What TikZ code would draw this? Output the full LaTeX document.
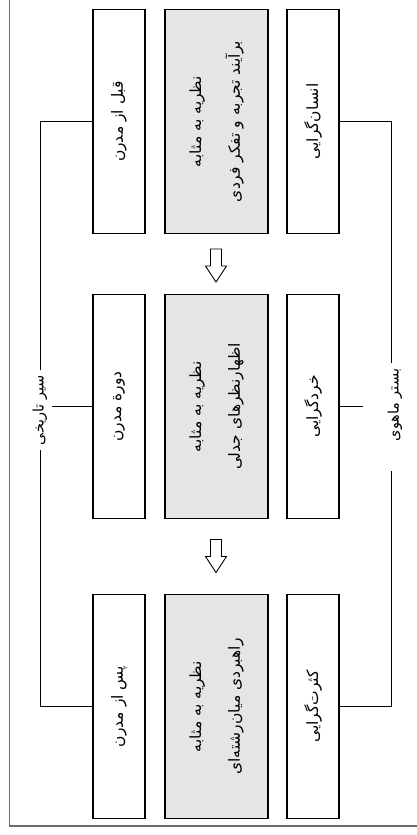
\documentclass[tikz,border=0pt]{standalone}
\usepackage{fontspec}
\newfontfamily\arabicfont[Script=Arabic]{DejaVu Sans}
\TeXXeTstate=1
\usetikzlibrary{calc}
\definecolor{boxgray}{gray}{0.9}
\definecolor{framegray}{gray}{0.42}

\begin{document}
\begin{tikzpicture}[x=1pt,y=-1pt,
  every node/.style={inner sep=0pt, outer sep=0pt},
  narrowbox/.style={draw, line width=1.1pt, fill=white, minimum width=52pt, minimum height=224pt},
  widebox/.style={draw, line width=1.1pt, fill=boxgray, minimum width=103pt, minimum height=224pt},
  boxtext/.style={rotate=90, font=\arabicfont\fontsize{15.5}{18}\selectfont},
  twolines/.style={rotate=90, align=center, font=\arabicfont\fontsize{15.5}{39}\selectfont},
  sidelabel/.style={rotate=90, inner sep=5pt, font=\arabicfont\fontsize{14.5}{17}\selectfont},
  conn/.style={line width=0.9pt},
  flowarrow/.style={draw, line width=0.9pt, fill=white, line join=miter}
]
\useasboundingbox (0,0) rectangle (417,835);

% page frame (left and bottom rules)
\draw[framegray, line width=1.3pt] (9.5,0) -- (9.5,826) -- (417,826);

% three rows of boxes: period / theory / basis
\node[narrowbox] (L1) at (119,121.5) {};
\node[widebox]   (C1) at (216.5,121.5) {};
\node[narrowbox] (R1) at (313,121.5) {};
\node[boxtext] (L1t) at (L1) {\beginR قبل از مدرن\endR};
\node[twolines] (C1t) at (C1) {\beginR نظریه به مثابه\endR\\\beginR برآیند تجربه و تفکر فردی\endR};
\node[boxtext] (R1t) at (R1) {\beginR انسان‌گرایی\endR};

\node[narrowbox] (L2) at (119,406.5) {};
\node[widebox]   (C2) at (216.5,406.5) {};
\node[narrowbox] (R2) at (313,406.5) {};
\node[boxtext] (L2t) at (L2) {\beginR دورة مدرن\endR};
\node[twolines] (C2t) at (C2) {\beginR نظریه به مثابه\endR\\\beginR اظهارنظرهای جدلی\endR};
\node[boxtext] (R2t) at (R2) {\beginR خردگرایی\endR};

\node[narrowbox] (L3) at (119,706.5) {};
\node[widebox]   (C3) at (216.5,706.5) {};
\node[narrowbox] (R3) at (313,706.5) {};
\node[boxtext] (L3t) at (L3) {\beginR پس از مدرن\endR};
\node[twolines] (C3t) at (C3) {\beginR نظریه به مثابه\endR\\\beginR راهبردی میان‌رشته‌ای\endR};
\node[boxtext] (R3t) at (R3) {\beginR کثرت‌گرایی\endR};

% side labels
\node[sidelabel] (hist) at (40,410) {\beginR سیر تاریخی\endR};
\node[sidelabel] (basis) at (395,405) {\beginR بستر ماهوی\endR};

% left bracket
\draw[conn] (L1.west) -| (hist.east);
\draw[conn] (L3.west) -| (hist.west);
\draw[conn] (L2.west) -- (L2.west -| hist.south);

% right bracket
\coordinate (btop) at ($(basis.east)+(-4,-1)$);
\coordinate (bbot) at ($(basis.west)+(-4,25)$);
\coordinate (bmid) at ($(R2.east)+(24,0)$);
\draw[conn] (R1.east) -| (btop);
\draw[conn] (R3.east) -| (bbot);
\draw[conn] (R2.east) -- (bmid);

% hollow flow arrows between rows
\coordinate (a1) at (216,249);
\coordinate (a2) at (216,539.5);
\foreach \a in {a1,a2}{
  \draw[flowarrow] ($(\a)+(-5.5,0)$) -- ($(\a)+(5.5,0)$) -- ($(\a)+(5.5,17)$)
    -- ($(\a)+(10.5,17)$) -- ($(\a)+(0,33)$) -- ($(\a)+(-10.5,17)$)
    -- ($(\a)+(-5.5,17)$) -- cycle;
}
\end{tikzpicture}
\end{document}
